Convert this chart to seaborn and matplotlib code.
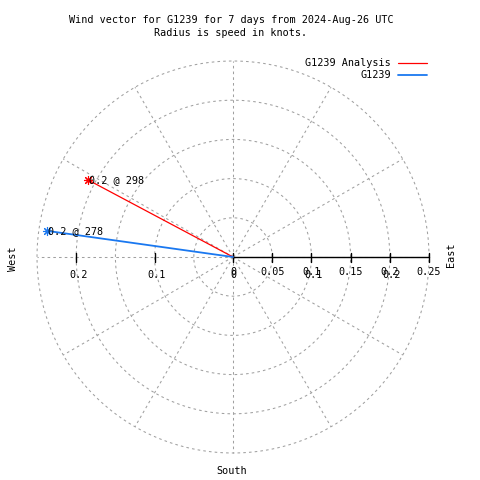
import numpy as np
import pandas as pd
import matplotlib
matplotlib.use("Agg")
import matplotlib.pyplot as plt
from matplotlib.lines import Line2D
import seaborn as sns

# wind vectors (speed in knots, direction in compass degrees)
series = ["G1239 Analysis", "G1239"]
speeds = [0.21, 0.24]
directions = [298, 278]
colors = ["#ff0000", "#1a78f0"]
widths = [0.9, 1.3]

ring_radii = [0.05, 0.10, 0.15, 0.20, 0.25]
spoke_angles = list(range(0, 360, 30))
x_ticks = [0, 0.05, 0.1, 0.15, 0.2, 0.25]
r_ticks = [0.1, 0.2]

title = ["Wind vector for G1239 for 7 days from 2024-Aug-26 UTC",
         "Radius is speed in knots."]

sns.set_style("white")
plt.rcParams["font.family"] = ["DejaVu Sans Mono"]
plt.rcParams["font.size"] = 7.3
plt.rcParams["text.color"] = "black"

W = 480
scale = 784.0  # pixels per knot
cx, cy = 233, 257

fig = plt.figure(figsize=(4.8, 4.8), dpi=100)
ax = fig.add_axes([0, 0, 1, 1])
ax.set_xlim(-cx / scale, (W - cx) / scale)
ax.set_ylim(-(W - cy) / scale, cy / scale)
ax.axis("off")

grid_kw = dict(color="#a0a0a0", lw=0.75, ls=(0, (2.5, 3)), zorder=1)
theta = np.linspace(0, 2 * np.pi, 400)
for r in ring_radii:
    ax.plot(r * np.cos(theta), r * np.sin(theta), **grid_kw)
rmax = ring_radii[-1]
for a in spoke_angles:
    rad = np.deg2rad(a)
    ax.plot([0, rmax * np.sin(rad)], [0, rmax * np.cos(rad)], **grid_kw)

# axis with ticks
px = 1 / scale
ax.plot([0, x_ticks[-1]], [0, 0], color="black", lw=1, zorder=2)
for t in x_ticks:
    ax.plot([t, t], [-4.5 * px, 4.5 * px], color="black", lw=1, zorder=2)
    ax.text(t, -15 * px, f"{t:g}", ha="center", va="center")
for t in r_ticks:
    ax.plot([-t, -t], [-4.5 * px, 4.5 * px], color="black", lw=1, zorder=2)
    for s in (-t, t):
        ax.text(s + 2 * px, -18.5 * px, f"{t:g}", ha="center", va="center")
ax.text(0, -18.5 * px, "0", ha="center", va="center")

# vectors
for name, spd, d, c, lw in zip(series, speeds, directions, colors, widths):
    rad = np.deg2rad(d)
    df = pd.DataFrame({"x": [0, spd * np.sin(rad)], "y": [0, spd * np.cos(rad)]})
    sns.lineplot(data=df, x="x", y="y", sort=False, color=c, lw=lw, ax=ax, zorder=3)
    ax.plot(df.x.iloc[-1], df.y.iloc[-1], marker=(8, 2, 0), ms=6.5, mew=0.8,
            color=c, zorder=4)
    ax.text(df.x.iloc[-1] + 1.5 * px, df.y.iloc[-1], f"{spd:.1f} @ {d}",
            ha="left", va="center", zorder=5)
ax.set_xlabel("")
ax.set_ylabel("")

# title
fig.text(231 / W, 1 - 20 / W, title[0], ha="center", va="center")
fig.text(231 / W, 1 - 33 / W, title[1], ha="center", va="center")

# legend
for i, (name, c, lw) in enumerate(zip(series, colors, widths)):
    y = 1 - (62.5 + 12.5 * i) / W
    fig.text(391 / W, y, name, ha="right", va="center")
    fig.add_artist(Line2D([398 / W, 427 / W], [y, y], color=c, lw=lw))

fig.text(13 / W, 1 - 259 / W, "West", rotation=90, ha="center", va="center")
fig.text(451 / W, 1 - 255 / W, "East", rotation=90, ha="center", va="center")
fig.text(232 / W, 1 - 471 / W, "South", ha="center", va="center")

fig.savefig("out.png", dpi=100, facecolor="white")
